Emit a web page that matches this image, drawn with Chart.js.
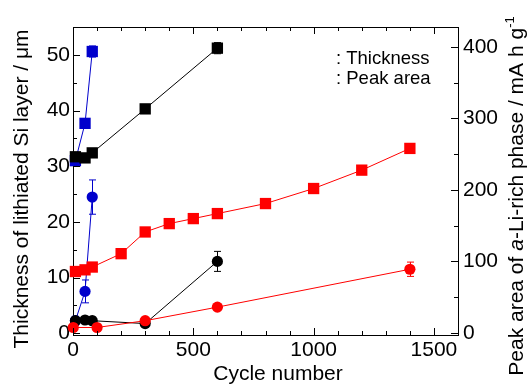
<!DOCTYPE html>
<html><head><meta charset="utf-8">
<script src="https://cdn.jsdelivr.net/npm/chart.js@4/dist/chart.umd.min.js"></script>
<style>html,body{margin:0;padding:0;background:#fff;}</style>
</head><body>
<canvas id="c" width="527" height="384"></canvas>
<script>
// ---- data (thickness: left axis, µm; peak area: right axis, mA h g-1) ----
const blueSqCycles  = [10, 50, 80];
const blueSqThick   = [31.0, 37.7, 50.6];
const blueSqErr     = [0, 0, 1.0];

const blackSqCycles = [10, 50, 80, 300, 600];
const blackSqThick  = [31.7, 31.5, 32.4, 40.3, 51.2];
const blackSqErr    = [0, 0, 0, 0, 1.0];

const redSqCycles   = [10, 50, 80, 200, 300, 400, 500, 600, 800, 1000, 1200, 1400];
const redSqThick    = [11.1, 11.4, 11.9, 14.3, 18.2, 19.7, 20.6, 21.5, 23.3, 26.0, 29.3, 33.2];
const redSqErr      = [0, 0, 0, 0.4, 0.6, 0.5, 0.5, 0.5, 0.6, 0.5, 0.5, 0.5];

const blueCiCycles  = [10, 50, 80];
const blueCiArea    = [17, 58, 190];
const blueCiErr     = [6, 16, 24];

const blackCiCycles = [10, 50, 80, 300, 600];
const blackCiArea   = [17, 18, 17, 13, 100];
const blackCiErr    = [6, 4, 5, 0, 14];

const redCiCycles   = [1, 100, 300, 600, 1400];
const redCiArea     = [7.5, 7.5, 17, 36, 89];
const redCiErr      = [0, 0, 2, 2, 10];

const xTickVals     = [0, 500, 1000, 1500];
const leftTickVals  = [0, 10, 20, 30, 40, 50];
const rightTickVals = [0, 100, 200, 300, 400];

const legendLabels  = [': Thickness', ': Peak area'];

const BLUE = '#0000CC', RED = '#FF0000', BLACK = '#000000';
const FONT = "'Liberation Sans', Arial, Helvetica, sans-serif";

function pts(xs, ys) { return xs.map((x, i) => ({x: x, y: ys[i]})); }

function ds(label, xs, ys, errs, color, style, axis, r) {
  return {
    label: label, data: pts(xs, ys), errs: errs,
    showLine: true, borderColor: color, backgroundColor: color,
    borderWidth: 1, pointStyle: style, pointRadius: r, pointHoverRadius: r,
    pointBorderWidth: 0, pointBorderColor: color,
    yAxisID: axis, clip: false
  };
}

const datasets = [
  ds('Red peak area', redCiCycles, redCiArea, redCiErr, RED, 'circle', 'y2', 5.6),
  ds('Red thickness', redSqCycles, redSqThick, redSqErr, RED, 'rect', 'y', 8),
  ds('Black thickness', blackSqCycles, blackSqThick, blackSqErr, BLACK, 'rect', 'y', 8),
  ds('Black peak area', blackCiCycles, blackCiArea, blackCiErr, BLACK, 'circle', 'y2', 5.6),
  ds('Blue thickness', blueSqCycles, blueSqThick, blueSqErr, BLUE, 'rect', 'y', 8),
  ds('Blue peak area', blueCiCycles, blueCiArea, blueCiErr, BLUE, 'circle', 'y2', 5.6)
];

const errorBars = {
  id: 'errorBars',
  beforeDatasetsDraw(chart) {
    const ctx = chart.ctx, xs = chart.scales.x;
    chart.data.datasets.forEach(d => {
      const ys = chart.scales[d.yAxisID];
      ctx.save();
      ctx.strokeStyle = d.borderColor; ctx.lineWidth = 1;
      d.data.forEach((p, i) => {
        const e = d.errs[i];
        if (!e) return;
        const px = Math.round(xs.getPixelForValue(p.x)) + 0.5;
        const t = ys.getPixelForValue(p.y + e), b = ys.getPixelForValue(p.y - e);
        ctx.beginPath();
        ctx.moveTo(px, t); ctx.lineTo(px, b);
        ctx.moveTo(px - 3.5, t); ctx.lineTo(px + 3.5, t);
        ctx.moveTo(px - 3.5, b); ctx.lineTo(px + 3.5, b);
        ctx.stroke();
      });
      ctx.restore();
    });
  }
};

const decor = {
  id: 'decor',
  afterDraw(chart) {
    const ctx = chart.ctx, a = chart.chartArea;
    const xs = chart.scales.x, yl = chart.scales.y, yr = chart.scales.y2;
    ctx.save();
    ctx.strokeStyle = '#000'; ctx.lineWidth = 1;
    ctx.beginPath();
    ctx.moveTo(a.left, a.top + 0.5); ctx.lineTo(a.right, a.top + 0.5);
    for (let v = 0; v <= 1600; v += 100) {
      const px = Math.round(xs.getPixelForValue(v)) + 0.5;
      const L = (v % 500 === 0) ? 7 : 4;
      ctx.moveTo(px, a.bottom); ctx.lineTo(px, a.bottom - L);
      ctx.moveTo(px, a.top); ctx.lineTo(px, a.top + L);
    }
    for (let v = 0; v <= 55; v += 5) {
      const py = Math.round(yl.getPixelForValue(v)) + 0.5;
      const L = (v % 10 === 0) ? 7 : 4;
      ctx.moveTo(a.left, py); ctx.lineTo(a.left + L, py);
    }
    for (let v = 0; v <= 425; v += 50) {
      const py = Math.round(yr.getPixelForValue(v)) + 0.5;
      const L = (v % 100 === 0) ? 7 : 4;
      ctx.moveTo(a.right, py); ctx.lineTo(a.right - L, py);
    }
    ctx.stroke();

    ctx.fillStyle = '#000';
    ctx.font = '18.5px ' + FONT;
    ctx.textAlign = 'left'; ctx.textBaseline = 'alphabetic';
    ctx.fillText(legendLabels[0], 336, 64);
    ctx.fillText(legendLabels[1], 336, 84);

    ctx.font = '21px ' + FONT;
    ctx.textAlign = 'center';
    ctx.fillText('Cycle number', 278, 380);

    ctx.save();
    ctx.translate(28, 189); ctx.rotate(-Math.PI / 2);
    ctx.textAlign = 'center';
    ctx.fillText('Thickness of lithiated Si layer / \u03bcm', 0, 0);
    ctx.restore();

    const segs = [
      {t: 'Peak area of ', f: '21px ' + FONT, dy: 0},
      {t: 'a', f: 'italic 21px ' + FONT, dy: 0},
      {t: '-Li-rich phase / mA h g', f: '21px ' + FONT, dy: 0},
      {t: '-1', f: '13px ' + FONT, dy: -9}
    ];
    let tot = 0;
    segs.forEach(s => { ctx.font = s.f; s.w = ctx.measureText(s.t).width; tot += s.w; });
    ctx.save();
    ctx.translate(523, 196); ctx.rotate(-Math.PI / 2);
    ctx.textAlign = 'left';
    let x0 = -tot / 2;
    segs.forEach(s => { ctx.font = s.f; ctx.fillText(s.t, x0, s.dy); x0 += s.w; });
    ctx.restore();
    ctx.restore();
  }
};

Chart.defaults.font.family = FONT;
Chart.defaults.color = '#000';

const tickFmt = v => String(v);

new Chart(document.getElementById('c'), {
  type: 'scatter',
  data: { datasets: datasets },
  options: {
    responsive: false, animation: false, devicePixelRatio: 1,
    layout: { padding: { top: 27, left: 0, right: 0, bottom: 0 } },
    plugins: { legend: { display: false }, tooltip: { enabled: false } },
    scales: {
      x: {
        type: 'linear', position: 'bottom', min: 0, max: 1600,
        grid: { display: false, drawTicks: false },
        border: { display: true, color: '#000', width: 1 },
        ticks: { font: { size: 21 }, color: '#000', padding: 3, maxRotation: 0, callback: tickFmt },
        afterBuildTicks: s => { s.ticks = xTickVals.map(v => ({value: v})); },
        afterFit: s => { s.height = 49; }
      },
      y: {
        type: 'linear', position: 'left', min: -0.3, max: 55,
        grid: { display: false, drawTicks: false },
        border: { display: true, color: '#000', width: 1 },
        ticks: { font: { size: 21 }, color: '#000', padding: 3, callback: tickFmt },
        afterBuildTicks: s => { s.ticks = leftTickVals.map(v => ({value: v})); },
        afterFit: s => { s.width = 73; }
      },
      y2: {
        type: 'linear', position: 'right', min: -3, max: 428,
        grid: { display: false, drawTicks: false },
        border: { display: true, color: '#000', width: 1 },
        ticks: { font: { size: 21 }, color: '#000', padding: 5, callback: tickFmt },
        afterBuildTicks: s => { s.ticks = rightTickVals.map(v => ({value: v})); },
        afterFit: s => { s.width = 69; }
      }
    }
  },
  plugins: [errorBars, decor]
});
</script>
</body></html>
